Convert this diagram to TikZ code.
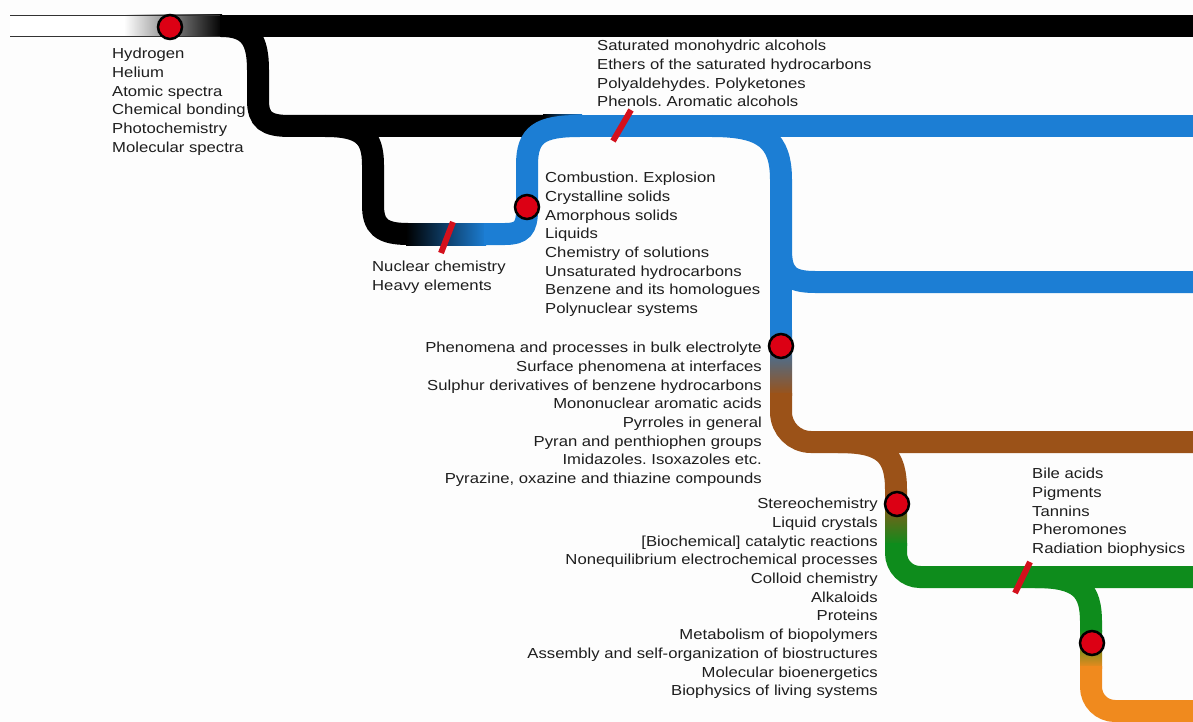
\documentclass[tikz,border=0pt]{standalone}
\usepackage{fontspec}
\setmainfont{Liberation Sans}[FakeStretch=1.15]
\definecolor{tblue}{HTML}{1C7ED4}
\definecolor{tbrown}{HTML}{9B5218}
\definecolor{tgreen}{HTML}{0E8C1C}
\definecolor{torange}{HTML}{F08A1E}
\definecolor{stopred}{HTML}{DC0014}
\definecolor{slashred}{HTML}{D4101C}
\definecolor{txt}{HTML}{1E1E1E}
\definecolor{bgc}{HTML}{FDFDFD}
\definecolor{bandedge}{HTML}{333333}
\newcommand{\lblfont}{\fontsize{14.5pt}{18.7pt}\selectfont\frenchspacing}
\begin{document}
\begin{tikzpicture}[x=1pt,y=-1pt,
  track/.style={line width=22pt},
  stopmark/.style={circle, draw=black, line width=2.5pt, fill=stopred, minimum size=24pt, inner sep=0pt},
  cutmark/.style={draw=slashred, line width=6pt},
  lbl/.style={font=\lblfont, text=txt, inner sep=0pt, align=left, anchor=north west},
  lblr/.style={font=\lblfont, text=txt, inner sep=0pt, align=right, anchor=north east}]
\useasboundingbox (0,0) rectangle (1193,722);
\fill[bgc] (0,0) rectangle (1193,722);

% top band
\fill[white] (10,15) rectangle (125,37);
\shade[left color=white, right color=black] (124,15) rectangle (222,37);
\draw[bandedge, line width=1.2pt] (10,15.6) -- (222,15.6);
\draw[bandedge, line width=1.2pt] (10,36.4) -- (222,36.4);
\draw[track, black] (220,26) -- (1193,26);

% branch 1
\draw[track, black] (221,26) .. controls (250,26) and (258,40) .. (258,70) -- (258,100) .. controls (258,120) and (266,126) .. (290,126) -- (545,126);
\shade[left color=black, right color=tblue] (543,115) rectangle (582,137);
\draw[track, tblue] (580,126) -- (1193,126);

% branch 2 (nuclear loop)
\draw[track, black] (325,126) .. controls (362,126) and (373,136) .. (373,165) -- (373,205) .. controls (373,226) and (381,234) .. (408,234);
\shade[left color=black, right color=tblue] (406,223) rectangle (486,245);
\draw[track, tblue] (484,234) -- (505,234) .. controls (522,234) and (527,228) .. (527,210) -- (527,165) .. controls (527,134) and (540,126) .. (580,126);

% branch 3
\draw[track, tblue] (712,126) .. controls (764,126) and (781,140) .. (781,180) -- (781,250) .. controls (781,274) and (789,282) .. (815,282) -- (1193,282);
\draw[track, tblue] (781,240) -- (781,332);
\shade[top color=tblue, bottom color=tbrown] (770,330) rectangle (792,395);
\draw[track, tbrown, rounded corners=30pt] (781,393) -- (781,442) -- (1193,442);

% branch 4
\draw[track, tbrown] (838,442) .. controls (884,442) and (896,455) .. (896,490) -- (896,500);
\shade[top color=tbrown, bottom color=tgreen] (885,498) rectangle (907,545);
\draw[track, tgreen, rounded corners=24pt] (896,543) -- (896,577) -- (1193,577);

% branch 5
\draw[track, tgreen] (1035,577) .. controls (1080,577) and (1091,590) .. (1091,622) -- (1091,632);
\shade[top color=tgreen, bottom color=torange] (1080,630) rectangle (1102,668);
\draw[track, torange, rounded corners=24pt] (1091,666) -- (1091,711) -- (1193,711);

% cuts
\coordinate (c1a) at (441,253); \coordinate (c1b) at (453,222);
\coordinate (c2a) at (613,141); \coordinate (c2b) at (631,110);
\coordinate (c3a) at (1015,593); \coordinate (c3b) at (1030,562);
\draw[cutmark] (c1a) -- (c1b);
\draw[cutmark] (c2a) -- (c2b);
\draw[cutmark] (c3a) -- (c3b);

% stops
\node[stopmark] (s1) at (170,27) {};
\node[stopmark] (s2) at (527,207) {};
\node[stopmark] (s3) at (781,346) {};
\node[stopmark] (s4) at (897,504) {};
\node[stopmark] (s5) at (1092,643) {};

% labels
\node[lbl] (la) at (112,48) {Hydrogen\\Helium\\Atomic spectra\\Chemical bonding\\Photochemistry\\Molecular spectra};
\node[lbl] (lb) at (597,40) {Saturated monohydric alcohols\\Ethers of the saturated hydrocarbons\\Polyaldehydes. Polyketones\\Phenols. Aromatic alcohols};
\node[lbl] (lc) at (372,261) {Nuclear chemistry\\Heavy elements};
\node[lbl] (ld) at (545,172) {Combustion. Explosion\\Crystalline solids\\Amorphous solids\\Liquids\\Chemistry of solutions\\Unsaturated hydrocarbons\\Benzene and its homologues\\Polynuclear systems};
\node[lblr] (le) at (762,342) {Phenomena and processes in bulk electrolyte\\Surface phenomena at interfaces\\Sulphur derivatives of benzene hydrocarbons\\Mononuclear aromatic acids\\Pyrroles in general\\Pyran and penthiophen groups\\Imidazoles. Isoxazoles etc.\\Pyrazine, oxazine and thiazine compounds};
\node[lblr] (lf) at (878,498) {Stereochemistry\\Liquid crystals\\{[Biochemical]} catalytic reactions\\Nonequilibrium electrochemical processes\\Colloid chemistry\\Alkaloids\\Proteins\\Metabolism of biopolymers\\Assembly and self-organization of biostructures\\Molecular bioenergetics\\Biophysics of living systems};
\node[lbl] (lg) at (1032,468) {Bile acids\\Pigments\\Tannins\\Pheromones\\Radiation biophysics};
\end{tikzpicture}
\end{document}
